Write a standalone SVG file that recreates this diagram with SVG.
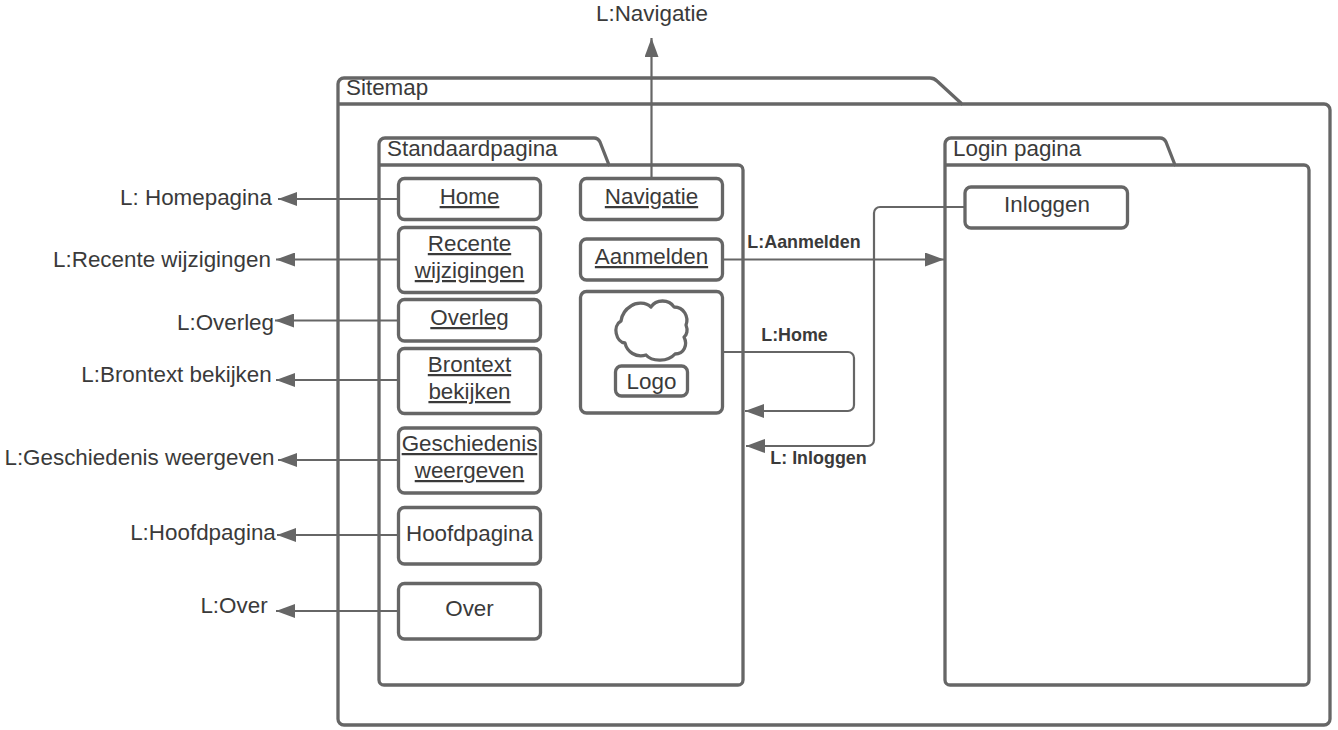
<svg xmlns="http://www.w3.org/2000/svg" width="1338" height="730" viewBox="0 0 1338 730">
<style>
text{font-family:"Liberation Sans",Arial,sans-serif;font-size:22.4px;fill:#3a3a3a;text-anchor:middle}
.s{text-anchor:start}
.u{text-decoration:underline}
.b{font-size:17.9px;font-weight:bold}
.f{fill:#fff;stroke:#666;stroke-width:3.3;stroke-linejoin:round}
.c{fill:none;stroke:#666;stroke-width:2.2}
.a{fill:#666;stroke:none}
</style>
<defs>
<marker id="ah" markerUnits="userSpaceOnUse" markerWidth="20" markerHeight="14" refX="19" refY="7" orient="auto"><path class="a" d="M0 0L19 7L0 14Z"/></marker>
</defs>
<rect width="1338" height="730" fill="#fff"/>
<g id="sitemap"><path class="f" d="M338 104V84a6 6 0 0 1 6-6H930q4 0 7 3L962 104H1324a6 6 0 0 1 6 6V719a6 6 0 0 1-6 6H344a6 6 0 0 1-6-6V104Z"/><path class="f" d="M338 104H962"/><text class="s" x="346" y="95">Sitemap</text></g>
<g id="standaardpagina"><path class="f" d="M379 165V144a6 6 0 0 1 6-6H594q4 0 6 4L609 165H738a5 5 0 0 1 5 5V680a5 5 0 0 1-5 5H384a5 5 0 0 1-5-5V165Z"/><path class="f" d="M379 165H609"/><text class="s" x="387" y="156">Standaardpagina</text></g>
<g id="loginpagina"><path class="f" d="M945 165V144a6 6 0 0 1 6-6H1160q4 0 6 4L1175 165H1304a5 5 0 0 1 5 5V680a5 5 0 0 1-5 5H950a5 5 0 0 1-5-5V165Z"/><path class="f" d="M945 165H1175"/><text class="s" x="953" y="156">Login pagina</text></g>
<g id="connectors">
<path class="c" marker-end="url(#ah)" d="M398 199H278"/>
<path class="c" marker-end="url(#ah)" d="M398 259.500H276"/>
<path class="c" marker-end="url(#ah)" d="M398 320.500H275"/>
<path class="c" marker-end="url(#ah)" d="M398 380H276"/>
<path class="c" marker-end="url(#ah)" d="M398 460H278"/>
<path class="c" marker-end="url(#ah)" d="M398 535H277"/>
<path class="c" marker-end="url(#ah)" d="M398 611H276"/>
<path class="c" marker-end="url(#ah)" d="M651.500 178V38"/>
<path class="c" marker-end="url(#ah)" d="M723 259.500H944"/>
<path class="c" marker-end="url(#ah)" d="M723 352H848a6 6 0 0 1 6 6V405a6 6 0 0 1-6 6H745"/>
<path class="c" marker-end="url(#ah)" d="M965 207H880a6 6 0 0 0-6 6V440a6 6 0 0 1-6 6H746"/>
</g>
<g id="home"><rect class="f" x="398.500" y="178.500" width="142" height="41" rx="6"/><text class="u" x="469.500" y="204">Home</text></g>
<g id="recente"><rect class="f" x="398.500" y="227.500" width="142" height="65" rx="6"/><text class="u" x="469.500" y="251">Recente</text><text class="u" x="469.500" y="278">wijzigingen</text></g>
<g id="overleg"><rect class="f" x="398.500" y="299.500" width="142" height="41.500" rx="6"/><text class="u" x="469.500" y="325">Overleg</text></g>
<g id="brontext"><rect class="f" x="398.500" y="348.500" width="142" height="65" rx="6"/><text class="u" x="469.500" y="372">Brontext</text><text class="u" x="469.500" y="399">bekijken</text></g>
<g id="geschiedenis"><rect class="f" x="398.500" y="428" width="142" height="65" rx="6"/><text class="u" x="469.500" y="451">Geschiedenis</text><text class="u" x="469.500" y="478">weergeven</text></g>
<g id="hoofdpagina"><rect class="f" x="398.500" y="507.500" width="142" height="56.500" rx="6"/><text x="469.500" y="541">Hoofdpagina</text></g>
<g id="over"><rect class="f" x="398.500" y="583.500" width="142" height="55.500" rx="6"/><text x="469.500" y="616">Over</text></g>
<g id="navigatie"><rect class="f" x="580.500" y="178.500" width="142" height="41" rx="6"/><text class="u" x="651.500" y="204">Navigatie</text></g>
<g id="aanmelden"><rect class="f" x="580.500" y="239" width="142" height="41" rx="6"/><text class="u" x="651.500" y="264">Aanmelden</text></g>
<g id="logo"><rect class="f" x="580.500" y="291.500" width="142" height="121.500" rx="6"/>
<path class="f" d="M631 306C636 302 646 302 651 307C656 299 669 299 674 307C684 307 689 317 686 325C688 330 687 335 684 337C688 345 684 354 675 354C668 362 652 362 646 355C636 358 627 352 625 343C616 342 612 326 621 321C622 314 626 309 631 306Z"/>
<rect class="f" x="615.500" y="366" width="72" height="30" rx="6"/><text x="651.500" y="389">Logo</text></g>
<g id="inloggen"><rect class="f" x="965" y="187" width="162.500" height="41" rx="6"/><text x="1047" y="212">Inloggen</text></g>
<g id="labels">
<text x="652" y="21">L:Navigatie</text>
<text x="196" y="205">L: Homepagina</text>
<text x="162" y="267">L:Recente wijzigingen</text>
<text x="225.500" y="330">L:Overleg</text>
<text x="176.500" y="382">L:Brontext bekijken</text>
<text x="139.500" y="465">L:Geschiedenis weergeven</text>
<text x="203" y="540">L:Hoofdpagina</text>
<text x="234" y="613">L:Over</text>
<text class="b" x="804" y="248">L:Aanmelden</text>
<text class="b" x="794.500" y="341">L:Home</text>
<text class="b" x="818.500" y="464">L: Inloggen</text>
</g>
</svg>
